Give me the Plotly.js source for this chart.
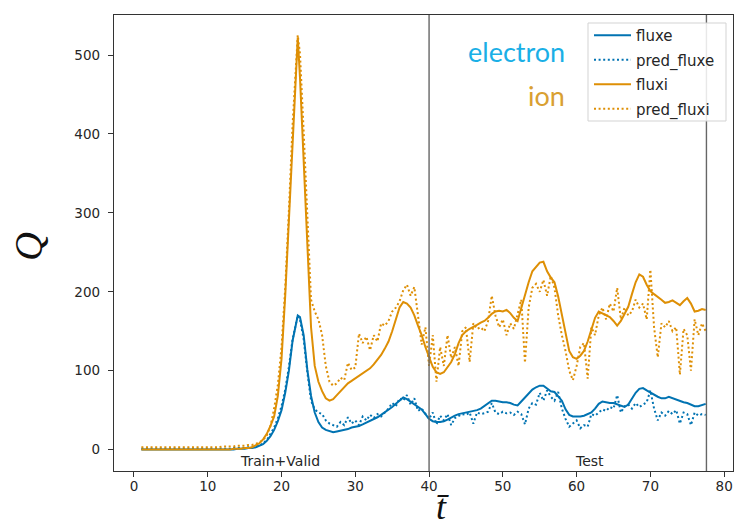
<!DOCTYPE html>
<html>
<head>
<meta charset="utf-8">
<script src="https://cdn.plot.ly/plotly-3.0.1.min.js"></script>
<style>html,body{margin:0;padding:0;background:#fff;}#chart{width:734px;height:529px;}</style>
</head>
<body>
<div id="chart"></div>
<script>
// time axis (t-bar)
const t = [
  1,1.5,2,2.5,3,3.5,4,4.5,5,5.5,
  6,6.5,7,7.5,8,8.5,9,9.5,10,10.5,
  11,11.5,12,12.5,13,13.5,14,14.5,15,15.5,
  16,16.5,17,17.5,18,18.5,19,19.5,20,20.5,
  21,21.5,22.2,22.5,23,23.5,24,24.5,25,25.5,
  26,26.5,27,27.5,28,28.5,29,29.5,30,30.5,
  31,31.5,32,32.5,33,33.5,34,34.5,35,35.5,
  36,36.5,37,37.5,38,38.5,39,39.5,40,40.5,
  41,41.5,42,42.5,43,43.5,44,44.5,45,45.5,
  46,46.5,47,47.5,48,48.5,49,49.5,50,50.5,
  51,51.5,52,52.5,53,53.5,54,54.5,55,55.5,
  56,56.5,57,57.5,58,58.5,59,59.5,60,60.5,
  61,61.5,62,62.5,63,63.5,64,64.5,65,65.5,
  66,66.5,67,67.5,68,68.5,69,69.5,70,70.5,
  71,71.5,72,72.5,73,73.5,74,74.5,75,75.5,
  76,76.5,77,77.5
];

const fluxe = [
  0,0,0,0,0,0,0,0,0,0,
  0,0,0,0,0,0,0,0,0,0,
  0,0,0,0,0,0,1,1,1,2,
  2,3,5,7,11,17,25,36,50,72,
  100,138,170,168,145,101,68,47,35,28,
  25,23,22,23,24,25,26,28,29,30,
  32,34,36,38,41,44,47,50,54,58,
  62,66,64,61,58,55,51,45,39,36,
  35,35,36,38,41,43,45,46,47,48,
  49,50,52,55,59,62,62,61,60,60,
  59,57,56,61,66,71,76,79,81,81,
  78,74,73,68,62,51,44,42,42,42,
  43,45,47,52,58,61,60,59,59,57,
  55,54,57,65,72,77,78,75,72,70,
  67,65,65,67,65,63,61,60,59,57,
  55,55,57,58
];

const pred_fluxe = [
  1,1,1,1,1,1,1,1,1,1,
  1,1,1,1,1,1,1,1,1,1,
  1,1,1,1,1,2,2,2,2,3,
  3,4,5,8,12,20,28,40,55,76,
  105,140,170,165,140,98,62,51,47,45,
  37,33,31,29,35,31,41,33,37,31,
  42,37,44,40,45,42,47,52,59,55,
  65,62,69,57,65,49,52,45,39,47,
  32,43,37,45,31,40,43,45,44,47,
  33,47,45,46,48,59,47,45,48,46,
  47,44,48,45,32,52,59,57,72,62,
  75,67,62,73,52,39,29,33,37,27,
  31,29,45,43,47,51,49,54,52,69,
  47,55,57,52,59,54,57,60,75,52,
  37,47,43,49,45,50,33,47,45,31,
  47,43,45,44
];

const fluxi = [
  0,0,0,0,0,0,0,0,0,0,
  0,0,0,0,0,0,0,0,0,0,
  0,0,0,0,0,1,1,1,2,2,
  3,5,8,13,20,30,42,68,115,195,
  293,397,522,472,365,253,155,106,86,74,
  65,62,64,69,74,79,84,87,90,93,
  96,99,103,108,114,120,128,137,150,165,
  180,187,185,180,170,157,145,130,117,105,
  98,96,98,104,111,121,135,145,150,153,
  155,158,161,163,167,172,175,176,175,177,
  173,167,163,180,196,212,226,232,237,238,
  226,218,212,194,170,145,125,117,115,119,
  125,137,153,167,175,173,170,168,163,157,
  163,173,181,197,212,222,219,209,201,197,
  194,190,186,187,189,186,183,188,192,185,
  175,176,178,177
];

const pred_fluxi = [
  3,3,3,3,3,3,3,3,3,3,
  3,3,3,3,3,3,3,3,3,3,
  3,3,4,4,4,4,5,5,5,6,
  6,7,9,12,18,30,52,82,130,205,
  303,412,525,502,403,293,190,175,165,145,
  106,86,81,84,91,88,110,101,104,147,
  135,143,126,145,137,160,157,163,175,180,
  188,202,209,195,206,170,133,155,106,145,
  86,130,106,145,116,130,106,150,155,111,
  160,153,155,150,163,195,170,155,165,145,
  160,153,170,190,110,180,205,210,200,215,
  195,220,205,170,145,125,100,88,106,130,
  135,90,155,145,170,180,165,185,175,205,
  165,180,170,175,190,180,185,165,228,155,
  117,160,155,163,150,155,95,153,145,100,
  165,145,160,150
];

const seriesNames = ['fluxe', 'pred_fluxe', 'fluxi', 'pred_fluxi'];
const splits = [40, 77.6];
const regionLabels = ['Train+Valid', 'Test'];
const xTicks = [0, 10, 20, 30, 40, 50, 60, 70, 80];
const yTicks = [0, 100, 200, 300, 400, 500];

const BLUE = '#0173b2';
const ORANGE = '#de8f05';
const DOT = '2px,2.6px';

const series = [fluxe, pred_fluxe, fluxi, pred_fluxi];
const colors = [BLUE, BLUE, ORANGE, ORANGE];
const dashes = ['solid', DOT, 'solid', DOT];

const traces = series.map((y, i) => ({
  x: t, y: y, name: seriesNames[i], legendgroup: 'g' + i, mode: 'lines',
  line: {color: colors[i], width: 2, dash: dashes[i]}
}));

const tickFont = {family: 'DejaVu Sans', size: 13.5, color: '#262626'};

// pixel helpers for paper coordinates (plot area: x 114..733, y 15..471)
const px = v => (v - 114) / 619;
const py = v => (471 - v) / 456;

const layout = {
  width: 734, height: 529,
  margin: {l: 114, r: 1, t: 15, b: 58, pad: 0},
  paper_bgcolor: '#fff', plot_bgcolor: '#fff',
  showlegend: true,
  xaxis: {
    range: [-2.71, 81.2], tickvals: xTicks, ticktext: xTicks.map(String),
    showgrid: false, zeroline: false, showline: true, mirror: true,
    linecolor: '#333', linewidth: 1.2, ticks: 'outside', ticklen: 5, tickwidth: 1,
    tickcolor: '#333', tickfont: tickFont, ticklabelstandoff: -2
  },
  yaxis: {
    range: [-27.1, 550.7], tickvals: yTicks, ticktext: yTicks.map(String),
    showgrid: false, zeroline: false, showline: true, mirror: true,
    linecolor: '#333', linewidth: 1.2, ticks: 'outside', ticklen: 5, tickwidth: 1,
    tickcolor: '#333', tickfont: tickFont, ticklabelstandoff: 5
  },
  legend: {
    x: px(589), xanchor: 'left', y: py(19), yanchor: 'top',
    traceorder: 'grouped', tracegroupgap: 2,
    bgcolor: 'rgba(0,0,0,0)', borderwidth: 0,
    font: {family: 'DejaVu Sans', size: 15, color: '#262626'},
    itemwidth: 37
  },
  shapes: splits.map(s => ({
    type: 'line', xref: 'x', yref: 'paper', x0: s, x1: s, y0: 0, y1: 1,
    line: {color: '#666', width: 1.4}
  })).concat([{
    type: 'rect', xref: 'paper', yref: 'paper', layer: 'above',
    x0: px(588), x1: px(726), y0: py(121), y1: py(23),
    line: {color: '#d3d3d3', width: 1}, fillcolor: 'rgba(255,255,255,0.85)'
  }]),
  annotations: [
    {text: regionLabels[0], xref: 'x', yref: 'y', x: 19.75, y: -14.8, showarrow: false,
     font: {family: 'DejaVu Sans', size: 14, color: '#262626'}, xanchor: 'center', yanchor: 'middle'},
    {text: regionLabels[1], xref: 'x', yref: 'y', x: 61.8, y: -14.8, showarrow: false,
     font: {family: 'DejaVu Sans', size: 14, color: '#262626'}, xanchor: 'center', yanchor: 'middle'},
    {text: 'electron', xref: 'paper', yref: 'paper', x: px(567), y: py(51),
     xanchor: 'right', yanchor: 'middle', showarrow: false,
     font: {family: 'Lato', size: 27, color: '#1aafe6'}},
    {text: 'ion', xref: 'paper', yref: 'paper', x: px(567), y: py(95),
     xanchor: 'right', yanchor: 'middle', showarrow: false,
     font: {family: 'Lato', size: 27, color: '#d9a032'}},
    {text: '<i>Q</i>', xref: 'paper', yref: 'paper', x: px(28), y: py(247),
     xanchor: 'center', yanchor: 'middle', showarrow: false, textangle: -90,
     font: {family: 'Liberation Serif', size: 40, color: '#111'}},
    {text: '<i>t\u0304</i>', xref: 'paper', yref: 'paper', x: px(442), y: py(528.5),
     xanchor: 'center', yanchor: 'bottom', showarrow: false,
     font: {family: 'Liberation Serif', size: 36, color: '#111'}}
  ]
};

Plotly.newPlot('chart', traces, layout, {staticPlot: true, displayModeBar: false});
</script>
</body>
</html>
